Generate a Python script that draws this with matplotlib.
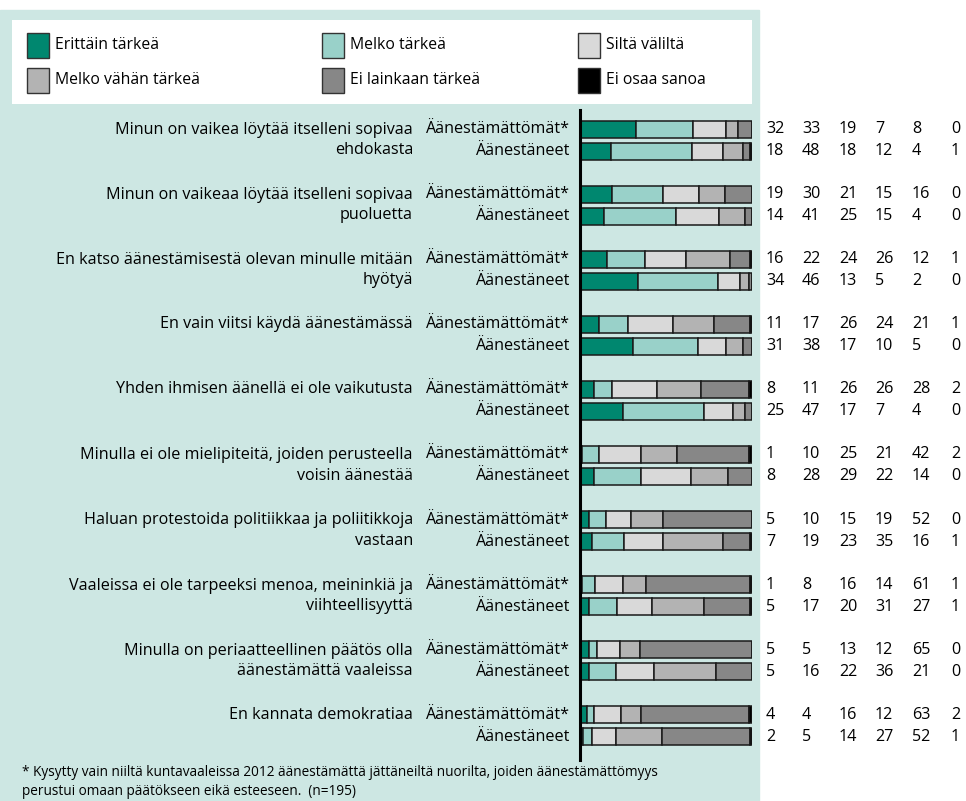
import matplotlib.pyplot as plt
from matplotlib.patches import Rectangle
import numpy as np

plt.rcParams['font.family'] = ['Open Sans', 'DejaVu Sans']

# categories / series
categories = ['Erittäin tärkeä', 'Melko tärkeä', 'Siltä väliltä',
              'Melko vähän tärkeä', 'Ei lainkaan tärkeä', 'Ei osaa sanoa']
colors = ['#00876f', '#99d1c9', '#d9d9d9', '#b3b3b3', '#878787', '#000000']

statements = [
    'Minun on vaikea löytää itselleni sopivaa\nehdokasta',
    'Minun on vaikeaa löytää itselleni sopivaa\npuoluetta',
    'En katso äänestämisestä olevan minulle mitään\nhyötyä',
    'En vain viitsi käydä äänestämässä',
    'Yhden ihmisen äänellä ei ole vaikutusta',
    'Minulla ei ole mielipiteitä, joiden perusteella\nvoisin äänestää',
    'Haluan protestoida politiikkaa ja poliitikkoja\nvastaan',
    'Vaaleissa ei ole tarpeeksi menoa, meininkiä ja\nviihteellisyyttä',
    'Minulla on periaatteellinen päätös olla\näänestämättä vaaleissa',
    'En kannata demokratiaa',
]
groups = ['Äänestämättömät*', 'Äänestäneet']

non_voters = [
    [32, 33, 19, 7, 8, 0],
    [19, 30, 21, 15, 16, 0],
    [16, 22, 24, 26, 12, 1],
    [11, 17, 26, 24, 21, 1],
    [8, 11, 26, 26, 28, 2],
    [1, 10, 25, 21, 42, 2],
    [5, 10, 15, 19, 52, 0],
    [1, 8, 16, 14, 61, 1],
    [5, 5, 13, 12, 65, 0],
    [4, 4, 16, 12, 63, 2],
]
voters = [
    [18, 48, 18, 12, 4, 1],
    [14, 41, 25, 15, 4, 0],
    [34, 46, 13, 5, 2, 0],
    [31, 38, 17, 10, 5, 0],
    [25, 47, 17, 7, 4, 0],
    [8, 28, 29, 22, 14, 0],
    [7, 19, 23, 35, 16, 1],
    [5, 17, 20, 31, 27, 1],
    [5, 16, 22, 36, 21, 0],
    [2, 5, 14, 27, 52, 1],
]

footnote = ('* Kysytty vain niiltä kuntavaaleissa 2012 äänestämättä jättäneiltä nuorilta, joiden äänestämättömyys\n'
            'perustui omaan päätökseen eikä esteeseen.  (n=195)')

W, H = 966, 801
fig = plt.figure(figsize=(W / 100, H / 100), dpi=100)

# background overlay in pixel coordinates
bg = fig.add_axes([0, 0, 1, 1])
bg.set_xlim(0, W)
bg.set_ylim(H, 0)
bg.axis('off')
bg.add_patch(Rectangle((0, 10), 759, H - 10, color='#cde7e3', zorder=0))
bg.add_patch(Rectangle((12, 20), 740, 84, facecolor='white', edgecolor='none', zorder=1))

# legend
leg_x = [27, 322, 578]
leg_y = [45, 80]
for k, (lab, col) in enumerate(zip(categories, colors)):
    lx = leg_x[k % 3]
    ly = leg_y[k // 3]
    bg.add_patch(Rectangle((lx, ly - 12.5), 22, 25, facecolor=col,
                           edgecolor='#333333', linewidth=1.0, zorder=2))
    bg.text(lx + 28, ly, lab, fontsize=11.3, va='center', ha='left', zorder=3)

# bar axes (y in pixel units so that texts line up)
y_top, y_bot = 110, 760
ax = fig.add_axes([580 / W, 1 - y_bot / H, 172 / W, (y_bot - y_top) / H])
ax.set_xlim(0, 100)
ax.set_ylim(y_bot, y_top)
ax.patch.set_alpha(0)
for s in ['top', 'right', 'bottom']:
    ax.spines[s].set_visible(False)
ax.spines['left'].set_linewidth(2.2)
ax.set_xticks([])
ax.set_yticks([])

first_row = 129
pair_step = 65.1
row_gap = 22
num_x = [766, 802, 839, 875, 912, 951]

for i, stmt in enumerate(statements):
    y0 = first_row + i * pair_step
    for j, vals in enumerate([non_voters[i], voters[i]]):
        y = y0 + j * row_gap
        v = np.array(vals, dtype=float)
        pct = v / v.sum() * 100
        left = np.concatenate([[0], np.cumsum(pct)[:-1]])
        ax.barh([y] * 6, pct, left=left, height=17, color=colors,
                edgecolor='#1a1a1a', linewidth=1.1)
        bg.text(570, y, groups[j], fontsize=11.6, ha='right', va='center')
        for xx, val in zip(num_x, vals):
            bg.text(xx, y, str(val), fontsize=11.6, ha='left', va='center')
    if '\n' in stmt:
        bg.text(413, y0 + row_gap / 2, stmt, fontsize=11.6, ha='right', va='center',
                multialignment='right', linespacing=1.36)
    else:
        bg.text(413, y0, stmt, fontsize=11.6, ha='right', va='center')

bg.text(22, 782, footnote, fontsize=9.8, ha='left', va='center', linespacing=1.38)

fig.savefig('out.png', dpi=100)
